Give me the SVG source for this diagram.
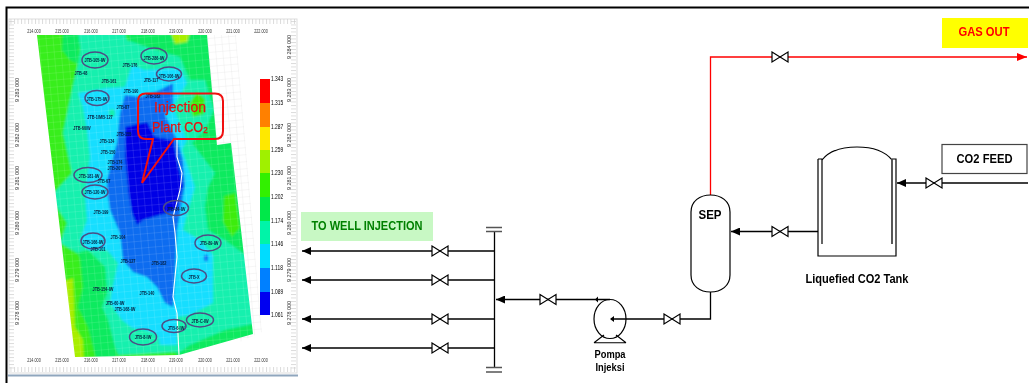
<svg xmlns="http://www.w3.org/2000/svg" width="1029" height="383" viewBox="0 0 1029 383">
<style>
text{font-family:"Liberation Sans",Arial,sans-serif;fill:#000}
.b{font-weight:bold}
.pipe{fill:none;stroke:#000;stroke-width:1.3}
.red{fill:none;stroke:#f00;stroke-width:1.3}
.v{fill:#fff;stroke:#000;stroke-width:1.2;stroke-linejoin:miter}
.vs{fill:none;stroke:#000;stroke-width:1.3}
.w{font-size:6.2px;font-weight:bold;fill:#0a2040;text-anchor:middle}
.e{fill:none;stroke:#4d4d85;stroke-width:1.5}
.ax{font-size:5.4px;fill:#333;text-anchor:middle}
.cb{font-size:6.8px;fill:#222}
.m{stroke:none}
</style>
<defs>
<marker id="ah" markerWidth="10" markerHeight="8" refX="9" refY="4" orient="auto" markerUnits="userSpaceOnUse"><path d="M0 0L9 4L0 8Z" fill="#000"/></marker>
<marker id="ar" markerWidth="11" markerHeight="8" refX="10" refY="4" orient="auto" markerUnits="userSpaceOnUse"><path d="M0 0L10 4L0 8Z" fill="#f00"/></marker>
<g id="valve"><path class="v" d="M-8 -5L8 5V-5L-8 5Z"/></g>
<clipPath id="mapc"><path d="M37 35H207L217 145L231 143L253 334L179 355L75 357Z"/></clipPath>
<pattern id="grid" width="7" height="7" patternUnits="userSpaceOnUse" patternTransform="rotate(-5)"><path d="M7 0H0V7" fill="none" stroke="#fff" stroke-width=".5" stroke-opacity=".4"/></pattern>
<pattern id="gridg" width="7" height="7" patternUnits="userSpaceOnUse" patternTransform="rotate(-5)"><path d="M7 0H0V7" fill="none" stroke="#ddd" stroke-width=".5"/></pattern>
<pattern id="tick" width="3.5" height="4" patternUnits="userSpaceOnUse"><path d="M.5 0V4" stroke="#ccc" stroke-width=".7"/></pattern>
<pattern id="tickv" width="4" height="3.5" patternUnits="userSpaceOnUse"><path d="M0 .5H4" stroke="#ccc" stroke-width=".7"/></pattern>
<filter id="soft" x="-5%" y="-5%" width="110%" height="110%"><feGaussianBlur stdDeviation="1"/></filter>
<filter id="tsoft" x="-10%" y="-10%" width="120%" height="120%"><feGaussianBlur stdDeviation=".3"/></filter>
</defs>
<rect width="1029" height="383" fill="#fff"/>
<g id="frame">
<path d="M6.500 383V7.500H1029" fill="none" stroke="#000" stroke-width="2"/>
<rect x="8" y="374.500" width="290" height="2" fill="#8fa6bd"/>
</g>
<g id="map-panel">
<rect x="9" y="19" width="288" height="354" fill="#fff" stroke="#ddd"/>
<rect x="10" y="19" width="286" height="5" fill="url(#tick)"/>
<rect x="10" y="367" width="286" height="5" fill="url(#tick)"/>
<rect x="9" y="20" width="5" height="350" fill="url(#tickv)"/>
<rect x="291" y="20" width="5" height="350" fill="url(#tickv)"/>
<path d="M207 35H236L262 332L240 342L215 145Z" fill="url(#gridg)"/>
<g clip-path="url(#mapc)">
<g filter="url(#soft)">
<rect x="25" y="25" width="245" height="345" fill="#38ee1c"/>
<path class="m" fill="#08ea5e" d="M63 30L62 50L70 60L78 64L80 30ZM77 253L88 250L105 267L107 293L102 307L108 320L115 347L118 362L97 362L88 327L78 307L83 287L80 258ZM125 30H215L225 130L265 140L265 335L179 362L175 350L200 200Z"/>
<path class="m" fill="#a8ee00" d="M170 30H191L187 42L175 44ZM60 282L68 280L73 278L74 300L75 327L83 340L84 362L70 362Z"/>
<path class="m" fill="#16f0ae" d="M78 30H125L127 40L147 47L180 57L190 80L205 80L214 110L205 130L192 143L215 173L208 187L205 207L208 230L225 240L255 262L262 322L225 330L190 345L180 352L118 355L115 347L108 320L102 307L107 293L105 267L88 250L77 253L60 243L67 223L50 197L72 173L63 133L72 90L78 63L80 50Z"/>
<path class="m" fill="#3cec10" d="M197 92L205 99L204 114L193 117L189 104ZM224 196L235 193L240 228L232 237L223 222Z"/>
<path class="m" fill="#14deff" d="M78 93L107 88L125 87L132 65L145 70L180 68L187 83L173 107L187 140L182 150L195 187L188 210L183 230L200 240L213 255L213 303L190 315L177 317L177 345L160 345L158 335L145 330L132 328L122 320L110 303L112 290L118 263L107 250L88 250L80 240L87 220L85 195L90 157L87 130L83 107Z"/>
<ellipse class="m" cx="112" cy="113" rx="3" ry="4" fill="#16f0ae"/>
<path class="m" fill="#0a6cf0" d="M125 95L140 97L155 92L160 90L173 83L173 107L165 115L177 140L183 160L185 185L177 230L175 277L173 307L165 303L157 287L147 277L133 272L123 260L120 233L110 210L107 190L107 180L117 143L120 113Z"/>
<ellipse class="m" cx="206" cy="258" rx="2" ry="3.500" fill="#0a6cf0"/>
<path class="m" fill="#0000e6" d="M125 127L147 122L155 137L173 140L183 187L181 190L177 210L143 220L137 225L132 213L128 190L128 187L125 157Z"/>
</g>
<rect x="30" y="30" width="235" height="335" fill="url(#grid)"/>
<path d="M177 140L177 157L182 173L180 190L173 217L175 233L177 257L173 297L177 313L179 355" fill="none" stroke="#fff" stroke-width="1.100"/>
</g>
<g id="colorbar" filter="url(#tsoft)">
<rect x="260" y="79" width="10" height="24" fill="#f00"/>
<rect x="260" y="103" width="10" height="24" fill="#ff8000"/>
<rect x="260" y="127" width="10" height="23" fill="#ffe800"/>
<rect x="260" y="150" width="10" height="23" fill="#a0f000"/>
<rect x="260" y="173" width="10" height="24" fill="#33f000"/>
<rect x="260" y="197" width="10" height="24" fill="#00e84a"/>
<rect x="260" y="221" width="10" height="23" fill="#00f4a8"/>
<rect x="260" y="244" width="10" height="24" fill="#00dcff"/>
<rect x="260" y="268" width="10" height="24" fill="#0080ff"/>
<rect x="260" y="292" width="10" height="23" fill="#0000f0"/>
<g class="cb"><text transform="translate(271 81) scale(.72 1)">1.343</text><text transform="translate(271 105) scale(.72 1)">1.315</text><text transform="translate(271 129) scale(.72 1)">1.287</text><text transform="translate(271 152) scale(.72 1)">1.259</text><text transform="translate(271 175) scale(.72 1)">1.230</text><text transform="translate(271 199) scale(.72 1)">1.202</text><text transform="translate(271 223) scale(.72 1)">1.174</text><text transform="translate(271 246) scale(.72 1)">1.146</text><text transform="translate(271 270) scale(.72 1)">1.118</text><text transform="translate(271 294) scale(.72 1)">1.089</text><text transform="translate(271 317) scale(.72 1)">1.061</text></g>
</g>
<g id="axes" filter="url(#tsoft)">
<text class="ax" transform="translate(34 33) scale(.7 1)">214.000</text><text class="ax" transform="translate(62 33) scale(.7 1)">215.000</text><text class="ax" transform="translate(91 33) scale(.7 1)">216.000</text><text class="ax" transform="translate(119 33) scale(.7 1)">217.000</text><text class="ax" transform="translate(148 33) scale(.7 1)">218.000</text><text class="ax" transform="translate(176 33) scale(.7 1)">219.000</text><text class="ax" transform="translate(205 33) scale(.7 1)">220.000</text><text class="ax" transform="translate(233 33) scale(.7 1)">221.000</text><text class="ax" transform="translate(261 33) scale(.7 1)">222.000</text>
<text class="ax" transform="translate(34 362) scale(.7 1)">214.000</text><text class="ax" transform="translate(62 362) scale(.7 1)">215.000</text><text class="ax" transform="translate(91 362) scale(.7 1)">216.000</text><text class="ax" transform="translate(119 362) scale(.7 1)">217.000</text><text class="ax" transform="translate(148 362) scale(.7 1)">218.000</text><text class="ax" transform="translate(176 362) scale(.7 1)">219.000</text><text class="ax" transform="translate(205 362) scale(.7 1)">220.000</text><text class="ax" transform="translate(233 362) scale(.7 1)">221.000</text><text class="ax" transform="translate(261 362) scale(.7 1)">222.000</text>
<text class="ax" transform="translate(19 90) rotate(-90)">9 283 000</text><text class="ax" transform="translate(19 135) rotate(-90)">9 282 000</text><text class="ax" transform="translate(19 178) rotate(-90)">9 281 000</text><text class="ax" transform="translate(19 223) rotate(-90)">9 280 000</text><text class="ax" transform="translate(19 270) rotate(-90)">9 279 000</text><text class="ax" transform="translate(19 313) rotate(-90)">9 278 000</text>
<text class="ax" transform="translate(291 47) rotate(-90)">9 284 000</text><text class="ax" transform="translate(291 90) rotate(-90)">9 283 000</text><text class="ax" transform="translate(291 135) rotate(-90)">9 282 000</text><text class="ax" transform="translate(291 178) rotate(-90)">9 281 000</text><text class="ax" transform="translate(291 223) rotate(-90)">9 280 000</text><text class="ax" transform="translate(291 270) rotate(-90)">9 279 000</text><text class="ax" transform="translate(291 313) rotate(-90)">9 278 000</text>
</g>
<g id="wells" filter="url(#tsoft)">
<ellipse class="e" cx="95" cy="60" rx="13" ry="8"/><ellipse class="e" cx="154" cy="56" rx="13" ry="8"/><ellipse class="e" cx="169" cy="74" rx="12.500" ry="7"/><ellipse class="e" cx="97" cy="98" rx="12" ry="7.500"/><ellipse class="e" cx="88" cy="175" rx="14" ry="7.500"/><ellipse class="e" cx="95" cy="192" rx="13" ry="7"/><ellipse class="e" cx="176" cy="208" rx="12.500" ry="7.500"/><ellipse class="e" cx="93" cy="241" rx="12" ry="8"/><ellipse class="e" cx="208" cy="243" rx="13" ry="8"/><ellipse class="e" cx="194" cy="276" rx="12.500" ry="7"/><ellipse class="e" cx="200" cy="320" rx="13.500" ry="7"/><ellipse class="e" cx="174" cy="326" rx="12" ry="6.500"/><ellipse class="e" cx="143" cy="337" rx="13.500" ry="8"/>
<text class="w" transform="translate(95 62) scale(.62 1)">JTB-105-IW</text><text class="w" transform="translate(154 60) scale(.62 1)">JTB-286-IW</text><text class="w" transform="translate(169 78) scale(.62 1)">JTB-106-IW</text><text class="w" transform="translate(97 101) scale(.62 1)">JTB-175-IW</text><text class="w" transform="translate(89 178) scale(.62 1)">JTB-181-IW</text><text class="w" transform="translate(95 194) scale(.62 1)">JTB-120-IW</text><text class="w" transform="translate(176 211) scale(.62 1)">JTB-84-IW</text><text class="w" transform="translate(93 244) scale(.62 1)">JTB-166-IW</text><text class="w" transform="translate(209 245) scale(.62 1)">JTB-89-IW</text><text class="w" transform="translate(194 279) scale(.62 1)">JTB-X</text><text class="w" transform="translate(200 323) scale(.62 1)">JTB-C-IW</text><text class="w" transform="translate(176 330) scale(.62 1)">JTB-6-IW</text><text class="w" transform="translate(143 339) scale(.62 1)">JTB-8-IW</text>
<text class="w" transform="translate(81 75) scale(.62 1)">JTB-48</text><text class="w" transform="translate(109 83) scale(.62 1)">JTB-161</text><text class="w" transform="translate(130 67) scale(.62 1)">JTB-176</text><text class="w" transform="translate(151 82) scale(.62 1)">JTB-117</text><text class="w" transform="translate(131 93) scale(.62 1)">JTB-190</text><text class="w" transform="translate(153 98) scale(.62 1)">JTB-182</text><text class="w" transform="translate(123 109) scale(.62 1)">JTB-87</text><text class="w" transform="translate(100 119) scale(.62 1)">JTB-1/MB-127</text><text class="w" transform="translate(82 130) scale(.62 1)">JTB-60/W</text><text class="w" transform="translate(124 136) scale(.62 1)">JTB-155</text><text class="w" transform="translate(107 143) scale(.62 1)">JTB-134</text><text class="w" transform="translate(108 154) scale(.62 1)">JTB-150</text><text class="w" transform="translate(115 164) scale(.62 1)">JTB-174</text><text class="w" transform="translate(115 170) scale(.62 1)">JTB-207</text><text class="w" transform="translate(104 183) scale(.62 1)">JTB-67</text><text class="w" transform="translate(101 214) scale(.62 1)">JTB-199</text><text class="w" transform="translate(118 239) scale(.62 1)">JTB-104</text><text class="w" transform="translate(98 251) scale(.62 1)">JTB-101</text><text class="w" transform="translate(128 263) scale(.62 1)">JTB-127</text><text class="w" transform="translate(159 265) scale(.62 1)">JTB-182</text><text class="w" transform="translate(103 291) scale(.62 1)">JTB-154-IW</text><text class="w" transform="translate(147 295) scale(.62 1)">JTB-140</text><text class="w" transform="translate(115 305) scale(.62 1)">JTB-60-IW</text><text class="w" transform="translate(125 311) scale(.62 1)">JTB-168-IW</text>
</g>
<g id="injection-plant">
<path d="M146 93.500H215Q223 93.500 223 101V131Q223 139 215 139H174L142 183L153 139H146Q138 139 138 131V101Q138 93.500 146 93.500Z" fill="none" stroke="#f01010" stroke-width="2"/>
<text x="180" y="112" font-size="15" style="fill:#e81010;stroke:#e81010;stroke-width:.25" text-anchor="middle" textLength="52" lengthAdjust="spacingAndGlyphs">Injection</text>
<text x="180" y="132" font-size="15" style="fill:#e81010;stroke:#e81010;stroke-width:.25" text-anchor="middle" textLength="56" lengthAdjust="spacingAndGlyphs">Plant CO₂</text>
</g>
</g>
<g id="connectors">
<path class="pipe" d="M495 251H302" marker-end="url(#ah)"/>
<path class="pipe" d="M495 280H302" marker-end="url(#ah)"/>
<path class="pipe" d="M495 319H302" marker-end="url(#ah)"/>
<path class="pipe" d="M495 348H302" marker-end="url(#ah)"/>
<path class="pipe" d="M610 299.500H496" marker-end="url(#ah)"/>
<path d="M598 296.500V302.500L595 299.500Z" fill="#000"/>
<path class="pipe" d="M710.500 292V319H611"/>
<path d="M614 316V322L610 319Z" fill="#000"/>
<path class="pipe" d="M818 231.500H731" marker-end="url(#ah)"/>
<path class="pipe" d="M1028 183H897" marker-end="url(#ah)"/>
<path class="red" d="M710.500 195V57H1027" marker-end="url(#ar)"/>
</g>
<g id="valves">
<use href="#valve" x="440" y="251"/><use href="#valve" x="440" y="280"/><use href="#valve" x="440" y="319"/><use href="#valve" x="440" y="348"/><use href="#valve" x="548" y="299.500"/><use href="#valve" x="672" y="319"/><use href="#valve" x="780" y="231.500"/><use href="#valve" x="934" y="183"/><use href="#valve" x="780" y="57"/>
</g>
<g id="header">
<path class="vs" d="M494.500 232V367"/>
<path d="M486 227.500H502M486 231.500H502M486 367.500H502M486 372H502" fill="none" stroke="#555" stroke-width="1.300"/>
</g>
<g id="pump">
<ellipse cx="610" cy="319" rx="16" ry="19.500" fill="none" stroke="#000" stroke-width="1.200"/>
<path d="M594 342.700H626M594 342.700L604 335M626 342.700L616 335" fill="none" stroke="#000" stroke-width="1.100"/>
<text class="b" x="610" y="358" font-size="10.500" text-anchor="middle" textLength="31" lengthAdjust="spacingAndGlyphs">Pompa</text>
<text class="b" x="610" y="371" font-size="10.500" text-anchor="middle" textLength="29" lengthAdjust="spacingAndGlyphs">Injeksi</text>
</g>
<g id="sep">
<path d="M691 212C691 201 700 195 710.500 195S730 201 730 212V275C730 286 721 292 710.500 292S691 286 691 275Z" fill="#fff" stroke="#000" stroke-width="1.200"/>
<text class="b" x="710" y="219" font-size="12" text-anchor="middle" textLength="23" lengthAdjust="spacingAndGlyphs">SEP</text>
</g>
<g id="tank">
<path d="M822 160C830 150 845 147 857 147S884 150 892 160" fill="none" stroke="#000" stroke-width="1.200"/>
<path d="M818 159H822V244M892 244V159H896V256H818V159" fill="none" stroke="#000" stroke-width="1.200"/>
<path d="M892 159V244" stroke="#555" stroke-width="1.600"/>
<text class="b" x="857" y="283" font-size="12.500" text-anchor="middle" textLength="103" lengthAdjust="spacingAndGlyphs">Liquefied CO2 Tank</text>
</g>
<g id="co2-feed">
<rect x="942" y="144.500" width="85" height="29" fill="#fff" stroke="#444" stroke-width="1.200"/>
<text class="b" x="984.500" y="163" font-size="12.500" text-anchor="middle" textLength="56" lengthAdjust="spacingAndGlyphs">CO2 FEED</text>
</g>
<g id="gas-out">
<rect x="942" y="18" width="86" height="30" fill="#ff0"/>
<text class="b" x="984" y="36" font-size="12.500" text-anchor="middle" style="fill:#f00" textLength="51" lengthAdjust="spacingAndGlyphs">GAS OUT</text>
</g>
<g id="to-well">
<rect x="301" y="212" width="132" height="29" fill="#c8f8c4"/>
<text class="b" x="367" y="230" font-size="13" text-anchor="middle" style="fill:#008000" textLength="111" lengthAdjust="spacingAndGlyphs">TO WELL INJECTION</text>
</g>
</svg>
